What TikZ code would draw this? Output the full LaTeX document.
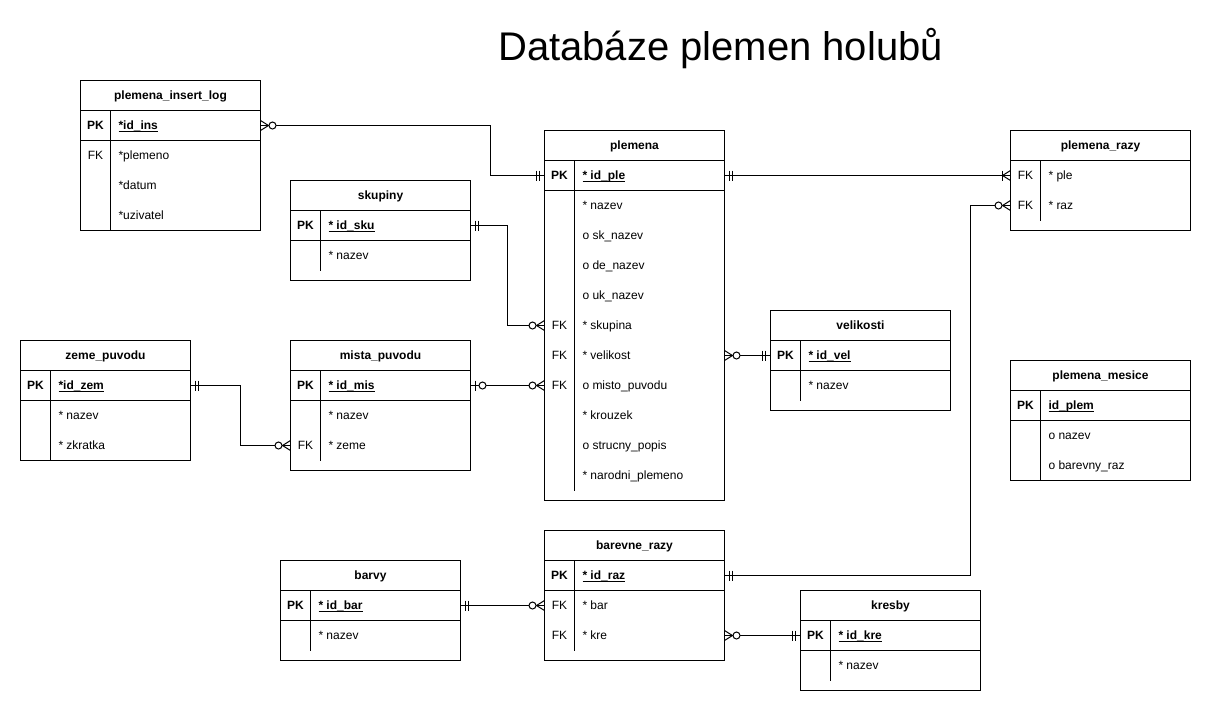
\documentclass[tikz,border=0pt]{standalone}
\usepackage{fontspec}
\setmainfont{Liberation Sans}
\newcommand{\pkul}[1]{\setbox0\hbox{#1}\rlap{\rule[-2pt]{\wd0}{0.9pt}}\box0}
\tikzset{
  tline/.style={line width=1pt, draw=black},
  conn/.style={line width=1pt, draw=black},
  tblbox/.style={rectangle, draw=black, line width=1pt, fill=white, inner sep=0pt, outer sep=0pt},
  rowbox/.style={rectangle, draw=none, inner sep=0pt, outer sep=0pt, minimum height=30pt},
  txt/.style={inner sep=0pt, outer sep=0pt, text height=10pt, text depth=1.4pt, font=\fontsize{12}{14}\selectfont},
  hdr/.style={txt, font=\fontsize{12}{14}\selectfont\bfseries},
  titletxt/.style={inner sep=0pt, font=\fontsize{40}{48}\selectfont}
}
% table: #1 name, #2 x, #3 y, #4 w, #5 h, #6 title, #7 divider bottom, #8 separator option
\newcommand{\ertbl}[8]{%
  \node[tblbox, minimum width=#4pt, minimum height=#5pt, anchor=north west] (#1) at (#2,#3) {};
  \node[hdr] (#1-t) at ({#2+#4/2},{#3+15}) {#6};
  \draw[tline] (#2,{#3+30}) -- ({#2+#4},{#3+30});
  \draw[tline,#8] (#2,{#3+60}) -- ({#2+#4},{#3+60});
  \draw[tline] ({#2+30},{#3+30}) -- ({#2+30},#7);
}
% row: #1 name, #2 x, #3 y centre, #4 w, #5 key, #6 field
\newcommand{\errow}[6]{%
  \node[rowbox, minimum width=#4pt, anchor=west] (#1) at (#2,#3) {};
  \node[txt] (#1-k) at ({#2+15},#3) {#5};
  \node[txt, anchor=west] (#1-f) at ({#2+38},#3) {#6};
}
\newcommand{\mkMandOne}[2]{%
  \draw[tline] ([xshift={-(#2)*5pt},yshift=5pt]#1) -- ([xshift={-(#2)*5pt},yshift=-5pt]#1);
  \draw[tline] ([xshift={-(#2)*8pt},yshift=5pt]#1) -- ([xshift={-(#2)*8pt},yshift=-5pt]#1);
}
\newcommand{\mkZeroMany}[2]{%
  \draw[tline] ([yshift=5pt]#1) -- ([xshift={-(#2)*8pt}]#1) -- ([yshift=-5pt]#1);
  \draw[tline, fill=white] ([xshift={-(#2)*12pt}]#1) circle (3.5pt);
}
\newcommand{\mkOneMany}[2]{%
  \draw[tline] ([yshift=5pt]#1) -- ([xshift={-(#2)*8pt}]#1) -- ([yshift=-5pt]#1);
  \draw[tline] ([xshift={-(#2)*8pt},yshift=5pt]#1) -- ([xshift={-(#2)*8pt},yshift=-5pt]#1);
}
\newcommand{\mkZeroOne}[2]{%
  \draw[tline] ([xshift={-(#2)*5pt},yshift=5pt]#1) -- ([xshift={-(#2)*5pt},yshift=-5pt]#1);
  \draw[tline, fill=white] ([xshift={-(#2)*12pt}]#1) circle (3.5pt);
}
\begin{document}
\begin{tikzpicture}[x=1pt, y=-1pt]
\fill[white] (-0.5,-0.5) rectangle (1210.5,709.5);
\useasboundingbox (-0.5,-0.5) rectangle (1210.5,709.5);

\node[titletxt, anchor=base] (title) at (720,60) {Databáze plemen holubů};

% plemena_insert_log
\ertbl{log}{80}{80}{180}{150}{plemena\_insert\_log}{230}{}
\errow{log-pk}{80}{125}{180}{\bfseries PK}{\pkul{\bfseries *id\_ins}}
\errow{log-r1}{80}{155}{180}{FK}{*plemeno}
\errow{log-r2}{80}{185}{180}{}{*datum}
\errow{log-r3}{80}{215}{180}{}{*uzivatel}

% skupiny
\ertbl{sku}{290}{180}{180}{100}{skupiny}{270}{}
\errow{sku-pk}{290}{225}{180}{\bfseries PK}{\pkul{\bfseries * id\_sku}}
\errow{sku-r1}{290}{255}{180}{}{* nazev}

% plemena
\ertbl{ple}{544}{130}{180}{370}{plemena}{490}{}
\errow{ple-pk}{544}{175}{180}{\bfseries PK}{\pkul{\bfseries * id\_ple}}
\errow{ple-r1}{544}{205}{180}{}{* nazev}
\errow{ple-r2}{544}{235}{180}{}{o sk\_nazev}
\errow{ple-r3}{544}{265}{180}{}{o de\_nazev}
\errow{ple-r4}{544}{295}{180}{}{o uk\_nazev}
\errow{ple-r6}{544}{325}{180}{FK}{* skupina}
\errow{ple-r7}{544}{355}{180}{FK}{* velikost}
\errow{ple-r8}{544}{385}{180}{FK}{o misto\_puvodu}
\errow{ple-r9}{544}{415}{180}{}{* krouzek}
\errow{ple-r10}{544}{445}{180}{}{o strucny\_popis}
\errow{ple-r11}{544}{475}{180}{}{* narodni\_plemeno}

% plemena_razy
\ertbl{raz}{1010}{130}{180}{100}{plemena\_razy}{220}{draw=none}
\errow{raz-r1}{1010}{175}{180}{FK}{* ple}
\errow{raz-r2}{1010}{205}{180}{FK}{* raz}

% velikosti
\ertbl{vel}{770}{310}{180}{100}{velikosti}{400}{}
\errow{vel-pk}{770}{355}{180}{\bfseries PK}{\pkul{\bfseries * id\_vel}}
\errow{vel-r1}{770}{385}{180}{}{* nazev}

% zeme_puvodu
\ertbl{zem}{20}{340}{170}{120}{zeme\_puvodu}{460}{}
\errow{zem-pk}{20}{385}{170}{\bfseries PK}{\pkul{\bfseries *id\_zem}}
\errow{zem-r1}{20}{415}{170}{}{* nazev}
\errow{zem-r2}{20}{445}{170}{}{* zkratka}

% mista_puvodu
\ertbl{mis}{290}{340}{180}{130}{mista\_puvodu}{460}{}
\errow{mis-pk}{290}{385}{180}{\bfseries PK}{\pkul{\bfseries * id\_mis}}
\errow{mis-r1}{290}{415}{180}{}{* nazev}
\errow{mis-r2}{290}{445}{180}{FK}{* zeme}

% plemena_mesice
\ertbl{mes}{1010}{360}{180}{120}{plemena\_mesice}{480}{}
\errow{mes-pk}{1010}{405}{180}{\bfseries PK}{\pkul{\bfseries id\_plem}}
\errow{mes-r1}{1010}{435}{180}{}{o nazev}
\errow{mes-r2}{1010}{465}{180}{}{o barevny\_raz}

% barevne_razy
\ertbl{bar}{544}{530}{180}{130}{barevne\_razy}{650}{}
\errow{bar-pk}{544}{575}{180}{\bfseries PK}{\pkul{\bfseries * id\_raz}}
\errow{bar-r1}{544}{605}{180}{FK}{* bar}
\errow{bar-r2}{544}{635}{180}{FK}{* kre}

% barvy
\ertbl{bva}{280}{560}{180}{100}{barvy}{650}{}
\errow{bva-pk}{280}{605}{180}{\bfseries PK}{\pkul{\bfseries * id\_bar}}
\errow{bva-r1}{280}{635}{180}{}{* nazev}

% kresby
\ertbl{kre}{800}{590}{180}{100}{kresby}{680}{}
\errow{kre-pk}{800}{635}{180}{\bfseries PK}{\pkul{\bfseries * id\_kre}}
\errow{kre-r1}{800}{665}{180}{}{* nazev}

% connectors
\draw[conn] (log-pk.east) -- ++(230,0) |- (ple-pk.west);
\draw[conn] (sku-pk.east) -- ++(37,0) |- (ple-r6.west);
\draw[conn] (ple-pk.east) -- (raz-r1.west);
\draw[conn] (raz-r2.west) -- ++(-40,0) |- (bar-pk.east);
\draw[conn] (vel-pk.west) -- (ple-r7.east);
\draw[conn] (mis-pk.east) -- (ple-r8.west);
\draw[conn] (zem-pk.east) -- ++(50,0) |- (mis-r2.west);
\draw[conn] (bva-pk.east) -- (bar-r1.west);
\draw[conn] (bar-r2.east) -- (kre-pk.west);

% markers
\mkZeroMany{log-pk.east}{-1}
\mkMandOne{ple-pk.west}{1}
\mkMandOne{sku-pk.east}{-1}
\mkZeroMany{ple-r6.west}{1}
\mkMandOne{ple-pk.east}{-1}
\mkOneMany{raz-r1.west}{1}
\mkZeroMany{raz-r2.west}{1}
\mkMandOne{bar-pk.east}{-1}
\mkMandOne{vel-pk.west}{1}
\mkZeroMany{ple-r7.east}{-1}
\mkZeroOne{mis-pk.east}{-1}
\mkZeroMany{ple-r8.west}{1}
\mkMandOne{zem-pk.east}{-1}
\mkZeroMany{mis-r2.west}{1}
\mkMandOne{bva-pk.east}{-1}
\mkZeroMany{bar-r1.west}{1}
\mkZeroMany{bar-r2.east}{-1}
\mkMandOne{kre-pk.west}{1}
\end{tikzpicture}
\end{document}
